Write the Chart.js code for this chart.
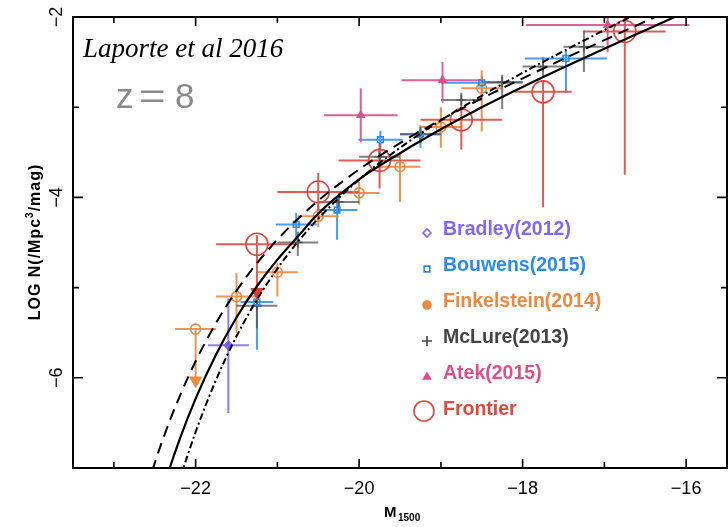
<!DOCTYPE html>
<html>
<head>
<meta charset="utf-8">
<script src="https://cdn.jsdelivr.net/npm/chart.js@4.4.1/dist/chart.umd.min.js"></script>
<style>
  html, body { margin: 0; padding: 0; background: #fff; }
</style>
</head>
<body>
<canvas id="lf" width="728" height="527"></canvas>
<script>
// z=8 UV luminosity function: binned number densities and fitted curves

// rows: [M1500, log N, half bin width, error up, error down]
const bradley = [
  [-21.60, -5.64, 0.25, 0.52, 0.75]
];
const bouwens = [
  [-21.25, -5.16, 0.20, 0.05, 0.53],
  [-20.77, -4.30, 0.25, 0.13, 0.18],
  [-20.27, -4.14, 0.25, 0.15, 0.33],
  [-19.74, -3.36, 0.27, 0.10, 0.10],
  [-19.25, -3.30, 0.25, 0.10, 0.15],
  [-18.50, -2.73, 0.50, 0.08, 0.16],
  [-17.47, -2.46, 0.50, 0.09, 0.38]
];
const finkelstein = [
  [-22.00, -5.46, 0.25, 0.00, 0.57],
  [-21.50, -5.10, 0.25, 0.26, 0.40],
  [-21.00, -4.83, 0.25, 0.10, 0.27],
  [-20.50, -4.21, 0.25, 0.12, 0.12],
  [-20.00, -3.95, 0.25, 0.12, 0.13],
  [-19.50, -3.66, 0.25, 0.16, 0.39],
  [-19.00, -3.22, 0.25, 0.22, 0.23],
  [-18.50, -2.79, 0.25, 0.20, 0.48]
];
const mclure = [
  [-21.25, -5.20, 0.25, 0.20, 0.25],
  [-20.75, -4.50, 0.25, 0.12, 0.15],
  [-20.25, -4.05, 0.25, 0.10, 0.12],
  [-19.75, -3.55, 0.25, 0.10, 0.10],
  [-19.25, -3.30, 0.25, 0.08, 0.10],
  [-18.75, -2.92, 0.25, 0.08, 0.08],
  [-18.25, -2.72, 0.25, 0.08, 0.30],
  [-17.75, -2.55, 0.25, 0.10, 0.12],
  [-17.25, -2.33, 0.25, 0.18, 0.28]
];
const atek = [
  [-19.98, -3.09, 0.45, 0.30, 0.30],
  [-18.98, -2.70, 0.50, 0.20, 0.25],
  [-16.96, -2.09, 1.00, 0.20, 0.30]
];
const frontier = [
  [-21.25, -4.52, 0.50, 0.10, 0.53],
  [-20.50, -3.94, 0.50, 0.21, 0.31],
  [-19.75, -3.59, 0.50, 0.20, 0.31],
  [-18.75, -3.14, 0.50, 0.14, 0.33],
  [-17.75, -2.83, 0.35, 0.13, 1.28],
  [-16.75, -2.16, 0.50, 0.30, 1.59]
];
// upper limits, drawn as arrow heads
const finkelsteinLimits = [[-22.00, -6.03]];
const frontierLimits = [[-21.25, -5.05]];

// fitted luminosity functions, sampled along M1500
const fitM = [-22.6, -22.4, -22.2, -22.0, -21.75, -21.5, -21.25, -21.0, -20.75, -20.5, -20.0, -19.5, -19.0, -18.5, -18.0, -17.5, -17.0, -16.5, -16.0, -15.5];
const fitSolid   = [-7.87, -7.235, -6.694, -6.231, -5.741, -5.331, -4.985, -4.690, -4.434, -4.180, -3.800, -3.510, -3.245, -3.000, -2.775, -2.560, -2.352, -2.147, -1.943, -1.740];
const fitDashed  = [-7.22, -6.679, -6.216, -5.817, -5.392, -5.035, -4.730, -4.468, -4.239, -4.036, -3.690, -3.398, -3.140, -2.903, -2.680, -2.465, -2.256, -2.050, -1.846, -1.644];
const fitDashDot = [-8.546, -7.793, -7.150, -6.601, -6.023, -5.540, -5.134, -4.789, -4.493, -4.235, -3.803, -3.450, -3.146, -2.873, -2.619, -2.378, -2.145, -1.916, -1.691, -1.468];

const X_LABELS = [-22, -20, -18, -16];
const Y_LABELS = [-6, -4, -2];

const legendItems = [
  { text: 'Bradley(2012)',     color: '#8466f2', style: 'rectRot',  r: 4,  fill: false },
  { text: 'Bouwens(2015)',     color: '#2a8cf0', style: 'rect',     r: 4,  fill: false },
  { text: 'Finkelstein(2014)', color: '#ea8a3f', style: 'circle',   r: 4,  fill: true },
  { text: 'McLure(2013)',      color: '#444444', style: 'cross',    r: 5,  fill: false },
  { text: 'Atek(2015)',        color: '#d9508c', style: 'triangle', r: 4,  fill: true },
  { text: 'Frontier',          color: '#dc4a40', style: 'circle',   r: 10, fill: false }
];

const minus = v => (v < 0 ? '\u2212' + Math.abs(v) : String(v));
const pts = rows => rows.map(r => ({ x: r[0], y: r[1] }));
const curve = vals => fitM.map((m, i) => ({ x: m, y: vals[i] }));

function survey(label, rows, color, barColor, style, r, fill) {
  return {
    type: 'scatter', label, data: pts(rows), errors: rows, barColor,
    pointStyle: style, pointRadius: r, pointBorderWidth: 1.6,
    pointBorderColor: color, pointBackgroundColor: fill ? color : 'rgba(0,0,0,0)',
    order: 2
  };
}

function fitLine(vals, dash, width) {
  return {
    type: 'line', data: curve(vals), borderColor: '#000', borderWidth: width,
    borderDash: dash, pointRadius: 0, cubicInterpolationMode: 'monotone',
    fill: false, order: 0
  };
}

// error bars, clipped to the plot frame
const errorBars = {
  id: 'errorBars',
  beforeDatasetsDraw(chart) {
    const { ctx, chartArea: a, scales: { x, y } } = chart;
    ctx.save();
    ctx.beginPath();
    ctx.rect(a.left, a.top, a.width, a.height);
    ctx.clip();
    ctx.lineWidth = 2;
    chart.data.datasets.forEach(ds => {
      if (!ds.errors) return;
      ctx.strokeStyle = ds.barColor;
      ds.errors.forEach(([m, l, dm, up, dn]) => {
        const px = x.getPixelForValue(m), py = y.getPixelForValue(l);
        ctx.beginPath();
        ctx.moveTo(x.getPixelForValue(m - dm), py);
        ctx.lineTo(x.getPixelForValue(m + dm), py);
        ctx.moveTo(px, y.getPixelForValue(l + up));
        ctx.lineTo(px, y.getPixelForValue(l - dn));
        ctx.stroke();
      });
    });
    ctx.restore();
  }
};

// frame, inward ticks, rotated y labels, axis titles, annotations and legend
const decorations = {
  id: 'decorations',
  afterDraw(chart) {
    const { ctx, chartArea: a, scales: { x, y } } = chart;
    ctx.save();
    ctx.strokeStyle = '#000';
    ctx.lineWidth = 2;
    ctx.strokeRect(a.left, a.top, a.width, a.height);

    ctx.lineWidth = 1.6;
    ctx.beginPath();
    for (let v = Math.ceil(x.min); v <= x.max; v++) {
      const px = x.getPixelForValue(v), len = v % 2 === 0 ? 9 : 6;
      ctx.moveTo(px, a.bottom); ctx.lineTo(px, a.bottom - len);
      ctx.moveTo(px, a.top); ctx.lineTo(px, a.top + len);
    }
    for (let v = Math.ceil(y.min); v <= y.max; v++) {
      const py = y.getPixelForValue(v), len = v % 2 === 0 ? 10 : 6;
      ctx.moveTo(a.left, py); ctx.lineTo(a.left + len, py);
      ctx.moveTo(a.right, py); ctx.lineTo(a.right - len, py);
    }
    ctx.stroke();

    // y tick labels, read bottom to top
    ctx.fillStyle = '#000';
    ctx.font = '18px "Liberation Sans", Arial, sans-serif';
    ctx.textAlign = 'center';
    ctx.textBaseline = 'alphabetic';
    Y_LABELS.forEach(v => {
      ctx.save();
      ctx.translate(a.left - 11, y.getPixelForValue(v));
      ctx.rotate(-Math.PI / 2);
      ctx.fillText(minus(v), 0, 0);
      ctx.restore();
    });

    // y title
    ctx.save();
    ctx.translate(40, 242);
    ctx.rotate(-Math.PI / 2);
    ctx.letterSpacing = '1px';
    const big = 'bold 16px "Liberation Sans", Arial, sans-serif';
    const small = 'bold 10px "Liberation Sans", Arial, sans-serif';
    const t1 = 'LOG N(/Mpc', t2 = '/mag)';
    ctx.font = big;
    const w1 = ctx.measureText(t1).width, w2 = ctx.measureText(t2).width;
    ctx.font = small;
    const w3 = ctx.measureText('3').width;
    const sx = -(w1 + w2 + w3) / 2;
    ctx.textAlign = 'left';
    ctx.font = big;
    ctx.fillText(t1, sx, 0);
    ctx.font = small;
    ctx.fillText('3', sx + w1, -7);
    ctx.font = big;
    ctx.fillText(t2, sx + w1 + w3, 0);
    ctx.restore();

    // x title M_1500
    ctx.textAlign = 'left';
    ctx.font = 'bold 15px "Liberation Sans", Arial, sans-serif';
    ctx.fillText('M', 384, 517);
    ctx.font = 'bold 10px "Liberation Sans", Arial, sans-serif';
    ctx.fillText('1500', 398, 521);

    // annotations
    ctx.font = 'italic 27px "Liberation Serif", "Times New Roman", serif';
    ctx.fillText('Laporte et al 2016', 83, 57);
    ctx.fillStyle = '#8a8a8a';
    ctx.font = '35px "DejaVu Sans ExtraLight", "Liberation Sans", sans-serif';
    ctx.fillText('z', 116, 108);
    ctx.save();
    ctx.translate(139, 108);
    ctx.scale(1.3, 1);
    ctx.fillText('=', 0, 0);
    ctx.restore();
    ctx.fillText('8', 175, 108);

    // legend
    const lx = 427, tx = 443;
    legendItems.forEach((it, i) => {
      const base = 235 + i * 36;
      ctx.strokeStyle = it.color;
      ctx.fillStyle = it.fill ? it.color : 'rgba(0,0,0,0)';
      ctx.lineWidth = 1.6;
      Chart.helpers.drawPoint(ctx, { pointStyle: it.style, radius: it.r, rotation: 0, borderWidth: 1.6 },
        lx - (it.r > 6 ? 3 : 0), base - 2 - (it.r > 6 ? 2 : 0));
      ctx.fillStyle = it.color;
      ctx.font = 'bold 19.5px "Liberation Sans", Arial, sans-serif';
      ctx.fillText(it.text, tx, base);
    });
    ctx.restore();
  }
};

new Chart(document.getElementById('lf'), {
  data: {
    datasets: [
      fitLine(fitSolid, [], 2.2),
      fitLine(fitDashed, [11, 7], 2),
      fitLine(fitDashDot, [7, 3, 2, 3], 2),
      survey('Bradley(2012)', bradley, '#7a5cf0', 'rgba(128,100,242,0.85)', 'rectRot', 4, true),
      survey('Bouwens(2015)', bouwens, '#2a8cf0', 'rgba(42,140,240,0.85)', 'rect', 4, false),
      survey('Finkelstein(2014)', finkelstein, '#ea8a3f', 'rgba(234,138,63,0.9)', 'circle', 5, false),
      survey('McLure(2013)', mclure, '#555555', 'rgba(85,85,85,0.75)', 'cross', 5, false),
      survey('Atek(2015)', atek, '#d9508c', 'rgba(217,80,140,0.9)', 'triangle', 4, true),
      survey('Frontier', frontier, '#dc4a40', 'rgba(220,74,64,0.9)', 'circle', 11, false),
      {
        type: 'scatter', data: pts(finkelsteinLimits), pointStyle: 'triangle', rotation: 180,
        pointRadius: 7, pointBackgroundColor: '#ea8a3f', pointBorderColor: '#ea8a3f', order: 1
      },
      {
        type: 'scatter', data: pts(frontierLimits), pointStyle: 'triangle', rotation: 180,
        pointRadius: 7, pointBackgroundColor: '#d8402f', pointBorderColor: '#d8402f', order: 1
      }
    ]
  },
  options: {
    responsive: false,
    animation: false,
    devicePixelRatio: 1,
    layout: { autoPadding: false, padding: { top: 17, right: 1, left: 0, bottom: 0 } },
    plugins: { legend: { display: false }, tooltip: { enabled: false } },
    scales: {
      x: {
        type: 'linear', min: -23.5, max: -15.5,
        afterFit: s => { s.height = 59; s.paddingLeft = 0; s.paddingRight = 0; },
        afterBuildTicks: s => { s.ticks = X_LABELS.map(v => ({ value: v })); },
        grid: { display: false, drawTicks: false },
        border: { display: false },
        ticks: {
          padding: 10, color: '#000', maxRotation: 0,
          font: { family: '"Liberation Sans", Arial, sans-serif', size: 18 },
          callback: v => minus(v)
        }
      },
      y: {
        type: 'linear', min: -7, max: -2,
        afterFit: s => { s.width = 73; s.paddingTop = 0; s.paddingBottom = 0; },
        grid: { display: false, drawTicks: false },
        border: { display: false },
        ticks: { display: false }
      }
    }
  },
  plugins: [errorBars, decorations]
});
</script>
</body>
</html>
